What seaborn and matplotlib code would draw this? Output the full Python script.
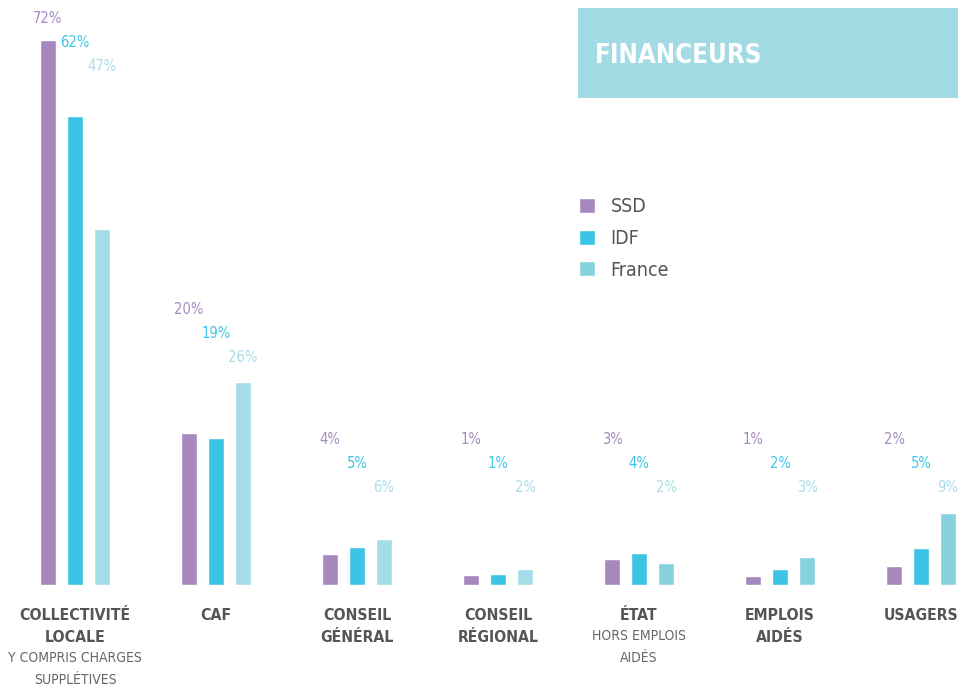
#!/usr/bin/env python3
# -*- coding: utf-8 -*-

"""
plot.py

Financeurs : part des financements par type de financeur (SSD / IDF / France).
Grouped bar chart drawn with seaborn, saved as out.png (958x688 px).
"""

import os

import numpy as np
import pandas as pd
import seaborn as sns
import matplotlib.pyplot as plt
import matplotlib.transforms as mtransforms
import matplotlib.font_manager as fm
from matplotlib.patches import Rectangle

# ---------------------------------------------------------------------------
# Data
# ---------------------------------------------------------------------------
categories = ["COLLECTIVITÉ\nLOCALE", "CAF", "CONSEIL\nGÉNÉRAL", "CONSEIL\nRÉGIONAL",
              "ÉTAT", "EMPLOIS\nAIDÉS", "USAGERS"]
subtitles = ["Y COMPRIS CHARGES\nSUPPLÉTIVES", "", "", "", "HORS EMPLOIS\nAIDÉS", "", ""]
zones = ["SSD", "IDF", "France"]

# bar heights (%)
ssd_values = [72, 20, 4, 1.3, 3.4, 1.1, 2.4]
idf_values = [62, 19.4, 4.9, 1.4, 4.2, 2.0, 4.8]
france_values = [47, 26.8, 6.0, 2.0, 2.8, 3.6, 9.4]

# printed labels (%)
ssd_labels = [72, 20, 4, 1, 3, 1, 2]
idf_labels = [62, 19, 5, 1, 4, 2, 5]
france_labels = [47, 26, 6, 2, 2, 3, 9]

title = "FINANCEURS"

# ---------------------------------------------------------------------------
# Style
# ---------------------------------------------------------------------------
palette = {"SSD": "#a688be", "IDF": "#3bc4e4", "France": "#85d2de"}
FRANCE_LIGHT = "#a4dce8"   # France bars of the first four groups are paler
label_colors = {"SSD": "#a48bc0", "IDF": "#40c6e6", "France": "#a9dee9"}
TEXT_GREY = "#555555"
BOX_COLOR = "#a3dbe4"

W, H = 958, 688
PX_PER_PCT = 7.556
BASELINE_PX = 584.5
GROUP_STEP_PX = 141
FIRST_CENTER_PX = 75

sns.set_theme(style="white")
plt.rcParams["font.family"] = ["Liberation Sans", "DejaVu Sans"]


def find_font(keys):
    """Return a FontProperties for the first installed file matching one of keys."""
    files = {os.path.basename(f.fname).lower(): f.fname for f in fm.fontManager.ttflist}
    for k in keys:
        for base, path in files.items():
            if base.startswith(k):
                return fm.FontProperties(fname=path)
    return None


reg_narrow = find_font(["liberationsansnarrow-regular", "dejavusanscondensed.",
                        "robotocondensed-regular"])
bold_narrow = find_font(["liberationsansnarrow-bold.", "dejavusanscondensed-bold.",
                         "robotocondensed-bold"])

if reg_narrow is not None and bold_narrow is not None:
    REG, BOLD = reg_narrow, bold_narrow
    SIZES = dict(value=10.5, cat=11.3, sub=10, legend=14, title=18.5)
else:
    REG = fm.FontProperties(family=["Liberation Sans", "DejaVu Sans"])
    BOLD = fm.FontProperties(family=["Liberation Sans", "DejaVu Sans"], weight="bold")
    SIZES = dict(value=10, cat=10.8, sub=9.4, legend=13.5, title=17.5)


def build_frame() -> pd.DataFrame:
    rows = []
    for zone, vals in zip(zones, [ssd_values, idf_values, france_values]):
        for cat, v in zip(categories, vals):
            rows.append({"financeur": cat, "zone": zone, "value": v})
    return pd.DataFrame(rows)


def main():
    df = build_frame()

    fig = plt.figure(figsize=(W / 100, H / 100), dpi=100)
    y0 = (H - BASELINE_PX) / H
    ax = fig.add_axes([0, y0, 1, 1 - y0])

    slot = 27 / GROUP_STEP_PX
    sns.barplot(data=df, x="financeur", y="value", hue="zone",
                order=categories, hue_order=zones, palette=palette,
                width=3 * slot, gap=1 - 16 / 27, saturation=1,
                errorbar=None, ax=ax)

    ax.set_xlim(-FIRST_CENTER_PX / GROUP_STEP_PX, (W - FIRST_CENTER_PX) / GROUP_STEP_PX)
    ax.set_ylim(0, BASELINE_PX / PX_PER_PCT)
    ax.axis("off")

    # paler France bars for the first four financeurs
    france_bars = sorted(ax.containers[2], key=lambda b: b.get_x())
    for b in france_bars[:4]:
        b.set_facecolor(FRANCE_LIGHT)

    # value labels, staggered above each group
    label_top = [74.9, 36.4, 19.2, 19.2, 19.2, 19.2, 19.2]
    for j, (zone, labs) in enumerate(zip(zones, [ssd_labels, idf_labels, france_labels])):
        bars = sorted(ax.containers[j], key=lambda b: b.get_x())
        for i, (b, lab) in enumerate(zip(bars, labs)):
            ax.text(b.get_x() + b.get_width() / 2, label_top[i] - j * 3.2, f"{lab}%",
                    ha="center", va="center", fontproperties=REG,
                    fontsize=SIZES["value"], color=label_colors[zone])

    # category labels under the bars
    trans = mtransforms.blended_transform_factory(ax.transData, fig.transFigure)
    for i, (cat, sub) in enumerate(zip(categories, subtitles)):
        line = 0
        for txt in cat.split("\n"):
            ax.text(i, 1 - (615 + 22.5 * line) / H, txt, transform=trans, ha="center",
                    va="center", fontproperties=BOLD, fontsize=SIZES["cat"],
                    color=TEXT_GREY, clip_on=False)
            line += 1
        if sub:
            for txt in sub.split("\n"):
                ax.text(i, 1 - (614 + 22 * line) / H, txt, transform=trans, ha="center",
                        va="center", fontproperties=REG, fontsize=SIZES["sub"],
                        color="#666666", clip_on=False)
                line += 1

    # legend
    leg_prop = REG.copy()
    leg_prop.set_size(SIZES["legend"])
    sns.move_legend(ax, "upper left", bbox_to_anchor=(579 / W, 1 - 197 / H),
                    bbox_transform=fig.transFigure, frameon=False, title=None,
                    prop=leg_prop, labelcolor=TEXT_GREY,
                    handlelength=0.82, handleheight=0.82, handletextpad=0.8,
                    labelspacing=0.66, borderpad=0, borderaxespad=0)

    # title box
    fig.patches.append(Rectangle((578 / W, 1 - 98 / H), 1 - 578 / W, 90 / H,
                                 transform=fig.transFigure, facecolor=BOX_COLOR,
                                 edgecolor="none", zorder=0))
    fig.text(595 / W, 1 - 56 / H, title, ha="left", va="center",
             fontproperties=BOLD, fontsize=SIZES["title"], color="white")

    fig.savefig("out.png", dpi=100)


if __name__ == "__main__":
    main()
